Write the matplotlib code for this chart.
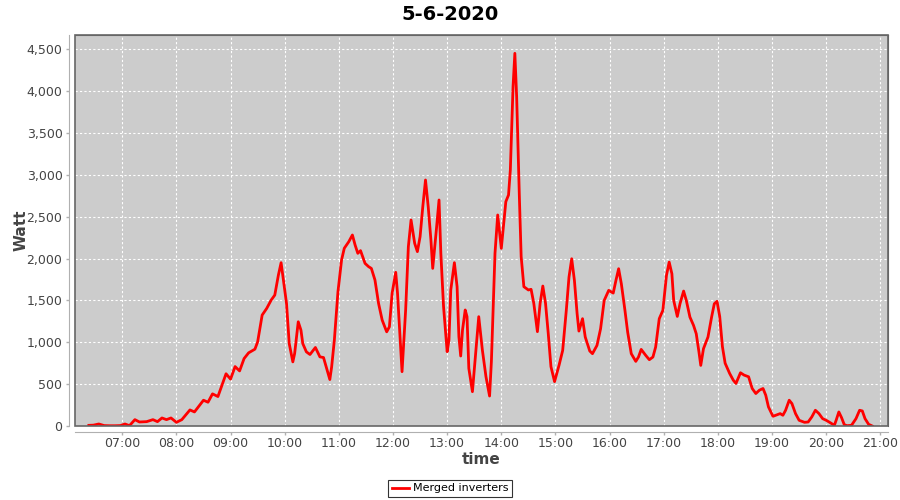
import pandas as pd
import matplotlib
matplotlib.use("Agg")
import matplotlib.pyplot as plt
import matplotlib.dates as mdates
from matplotlib.patches import Rectangle

# Power readings of the merged inverters on 5-6-2020
times = [
    "06:23", "06:28", "06:34", "06:40", "06:46", "06:52", "06:58", "07:03", "07:08", "07:14",
    "07:19", "07:27", "07:34", "07:39", "07:44", "07:49", "07:54", "08:00", "08:06", "08:15",
    "08:20", "08:30", "08:35", "08:40", "08:46", "08:55", "09:00", "09:05", "09:10", "09:15",
    "09:20", "09:27", "09:30", "09:35", "09:40", "09:45", "09:49", "09:53", "09:56", "09:59",
    "10:02", "10:05", "10:09", "10:11", "10:15", "10:18", "10:20", "10:24", "10:28", "10:34",
    "10:39", "10:43", "10:46", "10:50", "10:52", "10:55", "10:59", "11:03", "11:06", "11:11",
    "11:15", "11:18", "11:21", "11:24", "11:29", "11:33", "11:36", "11:40", "11:44", "11:48",
    "11:53", "11:56", "11:59", "12:03", "12:05", "12:08", "12:10", "12:14", "12:17", "12:20",
    "12:24", "12:27", "12:30", "12:33", "12:36", "12:39", "12:42", "12:44", "12:48", "12:51",
    "12:53", "12:56", "13:00", "13:02", "13:04", "13:08", "13:11", "13:13", "13:15", "13:17",
    "13:20", "13:22", "13:24", "13:28", "13:31", "13:35", "13:39", "13:43", "13:47", "13:49",
    "13:53", "13:56", "14:00", "14:05", "14:08", "14:10", "14:13", "14:15", "14:17", "14:20",
    "14:22", "14:25", "14:30", "14:33", "14:36", "14:40", "14:43", "14:46", "14:49", "14:52",
    "14:55", "14:59", "15:04", "15:08", "15:12", "15:15", "15:18", "15:21", "15:24", "15:26",
    "15:30", "15:33", "15:38", "15:41", "15:46", "15:50", "15:54", "15:59", "16:04", "16:07",
    "16:10", "16:13", "16:17", "16:20", "16:24", "16:29", "16:32", "16:35", "16:40", "16:44",
    "16:48", "16:51", "16:55", "16:59", "17:03", "17:06", "17:09", "17:11", "17:15", "17:18",
    "17:22", "17:25", "17:29", "17:33", "17:36", "17:39", "17:41", "17:44", "17:49", "17:53",
    "17:56", "17:59", "18:02", "18:05", "18:08", "18:13", "18:17", "18:20", "18:25", "18:29",
    "18:34", "18:38", "18:42", "18:46", "18:50", "18:53", "18:56", "19:01", "19:04", "19:09",
    "19:12", "19:15", "19:19", "19:22", "19:26", "19:30", "19:36", "19:40", "19:44", "19:48",
    "19:52", "19:56", "20:00", "20:05", "20:09", "20:11", "20:14", "20:17", "20:20", "20:23",
    "20:28", "20:33", "20:37", "20:40", "20:43", "20:47", "20:51",
]
watt = [
    8, 10, 24, 5, 3, 3, 5, 24, 4, 76,
    48, 52, 76, 52, 96, 76, 96, 44, 76, 192,
    168, 308, 284, 384, 352, 624, 560, 710, 658, 806,
    874, 918, 1005, 1325, 1404, 1504, 1564, 1803, 1951, 1704,
    1464, 985, 766, 866, 1245, 1145, 985, 886, 854, 938,
    826, 818, 706, 555, 706, 1025, 1604, 1983, 2123, 2202,
    2282, 2162, 2063, 2095, 1943, 1903, 1883, 1744, 1464, 1265,
    1125, 1185, 1585, 1836, 1585, 1027, 649, 1386, 2142, 2461,
    2182, 2083, 2262, 2620, 2939, 2620, 2222, 1883, 2341, 2700,
    2063, 1426, 888, 1027, 1625, 1951, 1664, 1067, 836, 1147,
    1386, 1306, 689, 410, 788, 1306, 908, 589, 358, 769,
    2063, 2521, 2122, 2680, 2760, 3058, 4054, 4452, 3934, 2740,
    2023, 1664, 1625, 1633, 1465, 1127, 1465, 1672, 1465, 1107,
    709, 530, 727, 903, 1381, 1779, 1998, 1739, 1341, 1134,
    1282, 1063, 896, 864, 963, 1162, 1500, 1620, 1588, 1739,
    1879, 1699, 1381, 1122, 864, 772, 824, 915, 844, 792,
    824, 943, 1282, 1381, 1799, 1958, 1819, 1500, 1309, 1461,
    1612, 1500, 1301, 1202, 1102, 884, 724, 923, 1063, 1301,
    1460, 1490, 1308, 948, 750, 628, 548, 508, 636, 608,
    588, 448, 388, 428, 448, 368, 228, 116, 128, 148,
    128, 188, 308, 268, 148, 68, 44, 48, 108, 188,
    148, 88, 68, 36, 8, 68, 168, 100, 16, 4,
    8, 88, 188, 180, 88, 20, 0,
]

day = "2020-06-05"
x = pd.to_datetime([day + " " + t for t in times])

fig = plt.figure(figsize=(9, 5), dpi=100)
ax = fig.add_axes([0.0833, 0.148, 0.9033, 0.782])
ax.set_facecolor("#cccccc")

ax.plot(x, watt, color="#ff0000", linewidth=2.0, label="Merged inverters",
        solid_joinstyle="round")

ax.set_xlim(pd.Timestamp(day + " 06:07:36"), pd.Timestamp(day + " 21:08:24"))
ax.set_ylim(0, 4671)
ax.set_yticks(range(0, 4501, 500))
ax.yaxis.set_major_formatter(matplotlib.ticker.FuncFormatter(lambda v, p: f"{int(v):,}"))
ax.xaxis.set_major_locator(mdates.HourLocator(byhour=range(7, 22)))
ax.xaxis.set_major_formatter(mdates.DateFormatter("%H:%M"))

ax.grid(True, color="white", linestyle=(0, (2, 2)), linewidth=0.8)
ax.set_axisbelow(True)

# JFreeChart-like axes: offset axis lines plus a plot outline
for side in ["left", "bottom"]:
    ax.spines[side].set_position(("outward", 4))
    ax.spines[side].set_color("#b0b0b0")
for side in ["top", "right"]:
    ax.spines[side].set_color("#666666")
ax.add_patch(Rectangle((0, 0), 1, 1, transform=ax.transAxes, fill=False,
                       edgecolor="#666666", linewidth=1.2, zorder=5, clip_on=False))

ax.tick_params(axis="both", colors="#b0b0b0", labelcolor="#444444", labelsize=9,
               length=2, width=1, direction="out")
ax.tick_params(axis="x", pad=2)
ax.tick_params(axis="y", pad=3)

ax.set_xlabel("time", fontsize=11, fontweight="bold", color="#444444")
ax.set_ylabel("Watt", fontsize=11, fontweight="bold", color="#444444")
ax.yaxis.set_label_coords(-0.057, 0.5)
ax.xaxis.set_label_coords(0.5, -0.067)
fig.suptitle("5-6-2020", fontsize=14, fontweight="bold", y=0.99)

leg = fig.legend(loc="lower center", bbox_to_anchor=(0.5, 0.002), fontsize=8,
                 frameon=True, fancybox=False, edgecolor="black", handlelength=1.6,
                 borderpad=0.3, handletextpad=0.3, borderaxespad=0.2)
leg.get_frame().set_linewidth(0.8)

plt.savefig("out.png", dpi=100)
